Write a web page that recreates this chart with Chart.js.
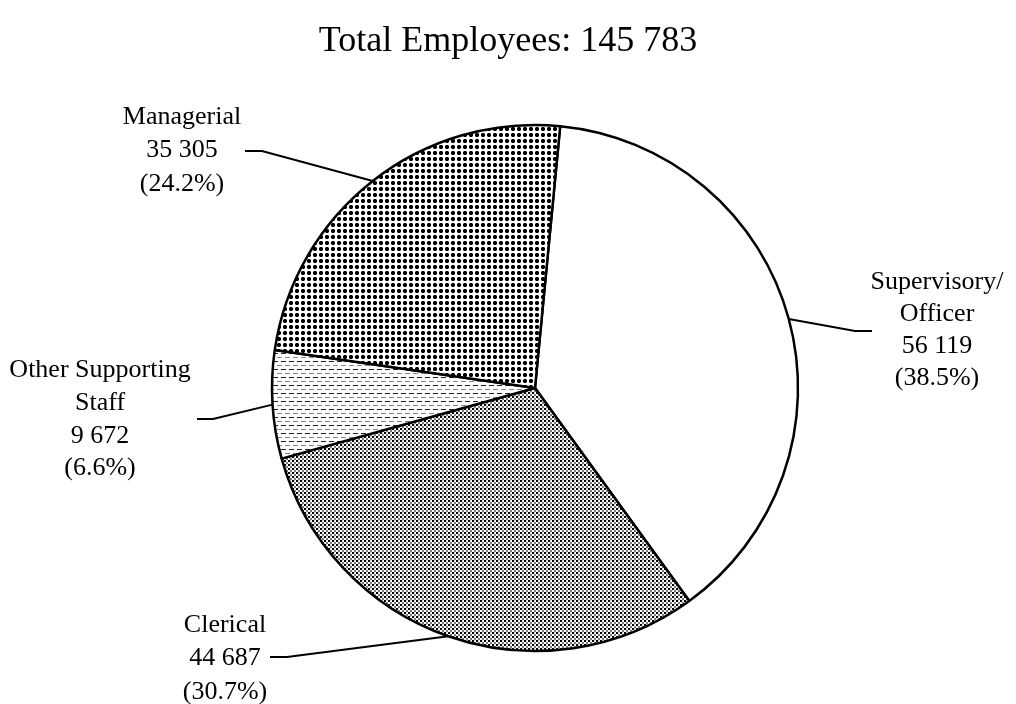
<!DOCTYPE html>
<html>
<head>
<meta charset="utf-8">
<script src="https://cdn.jsdelivr.net/npm/chart.js@4.4.1/dist/chart.umd.min.js"></script>
<style>
  body { margin: 0; background: #fff; }
  #wrap { width: 1016px; height: 704px; }
</style>
</head>
<body>
<div id="wrap"><canvas id="pieChart" width="1016" height="704"></canvas></div>
<script>
// data
var categories = ["Supervisory/\nOfficer", "Clerical", "Other Supporting\nStaff", "Managerial"];
var employees = [56119, 44687, 9672, 35305];
var titlePrefix = "Total Employees: ";

// where each slice label sits (text centre x, line centres y, leader elbow and end)
var labelLayout = [
    { tx: 937, ys: [282, 314, 346, 378], elbow: [855, 331], end: 872 },
    { tx: 225, ys: [625, 658, 692], elbow: [287, 657], end: 270 },
    { tx: 100, ys: [370, 403, 436, 468], elbow: [213, 419], end: 197 },
    { tx: 182, ys: [117, 150, 184], elbow: [262, 151], end: 245 }
];

function spaced(n) {
    return String(n).replace(/\B(?=(\d{3})+(?!\d))/g, " ");
}

function makePattern(w, h, draw) {
    var c = document.createElement('canvas');
    c.width = w; c.height = h;
    var g = c.getContext('2d');
    g.fillStyle = '#fff';
    g.fillRect(0, 0, w, h);
    draw(g);
    return document.getElementById('pieChart').getContext('2d').createPattern(c, 'repeat');
}

var dotPattern = makePattern(6, 6, function(g){
    g.fillStyle = '#888';
    g.fillRect(1, 1, 4, 4);
    g.fillStyle = '#000';
    g.fillRect(2, 1, 2, 4);
    g.fillRect(1, 2, 4, 2);
});
var dashPattern = makePattern(8, 8, function(g){
    g.fillStyle = '#222';
    g.fillRect(1, 1, 5, 1);
    g.fillStyle = '#888';
    g.fillRect(5, 5, 3, 1);
    g.fillRect(0, 5, 2, 1);
});
var weavePattern = makePattern(4, 4, function(g){
    g.fillStyle = '#000';
    g.fillRect(0, 0, 2, 2);
    g.fillStyle = '#777';
    g.fillRect(2, 2, 2, 2);
    g.fillStyle = '#ccc';
    g.fillRect(2, 0, 1, 1);
});

var total = employees.reduce(function(a, b){ return a + b; }, 0);

var sliceLabels = {
    id: 'sliceLabels',
    afterDraw: function(chart) {
        var ctx = chart.ctx;
        var meta = chart.getDatasetMeta(0);
        ctx.save();
        ctx.fillStyle = '#000';
        ctx.textAlign = 'center';
        ctx.textBaseline = 'middle';
        ctx.font = '36px "Liberation Serif", "Times New Roman", serif';
        ctx.fillText(titlePrefix + spaced(total), 508, 42);

        ctx.strokeStyle = '#000';
        ctx.lineWidth = 2;
        ctx.font = '26px "Liberation Serif", "Times New Roman", serif';
        meta.data.forEach(function(arc, i) {
            var p = arc.getProps(['x', 'y', 'startAngle', 'endAngle', 'outerRadius'], true);
            var mid = (p.startAngle + p.endAngle) / 2;
            var sx = p.x + Math.cos(mid) * p.outerRadius;
            var sy = p.y + Math.sin(mid) * p.outerRadius;
            var lay = labelLayout[i];
            ctx.beginPath();
            ctx.moveTo(sx, sy);
            ctx.lineTo(lay.elbow[0], lay.elbow[1]);
            ctx.lineTo(lay.end, lay.elbow[1]);
            ctx.stroke();
            var pct = (employees[i] / total * 100).toFixed(1);
            var lines = categories[i].split('\n').concat([spaced(employees[i]), '(' + pct + '%)']);
            lines.forEach(function(t, k) {
                ctx.fillText(t, lay.tx, lay.ys[k]);
            });
        });
        ctx.restore();
    }
};

window.onload = function(){
    var ctxP = document.getElementById("pieChart").getContext('2d');
    var myPieChart = new Chart(ctxP, {
        type: 'pie',
        data: {
            labels: categories,
            datasets: [
                {
                    data: employees,
                    backgroundColor: ['#fff', weavePattern, dashPattern, dotPattern],
                    borderColor: '#000',
                    borderWidth: 2.5,
                    radius: 263
                }
            ]
        },
        options: {
            responsive: false,
            animation: false,
            rotation: 5.5,
            layout: { padding: { left: 54, right: 0, top: 72, bottom: 0 } },
            plugins: {
                legend: { display: false },
                tooltip: { enabled: false },
                title: { display: false }
            }
        },
        plugins: [sliceLabels]
    });
};
</script>
</body>
</html>
